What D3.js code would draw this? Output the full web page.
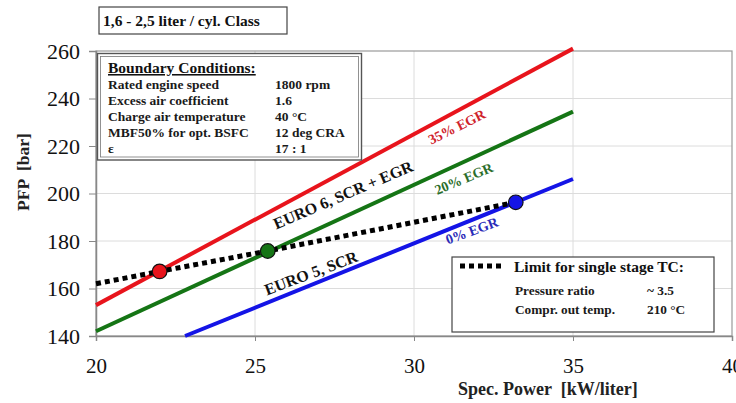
<!DOCTYPE html>
<html>
<head>
<meta charset="utf-8">
<script src="https://cdn.jsdelivr.net/npm/d3@7"></script>
<style>
  html, body { margin: 0; padding: 0; background: #fff; }
  svg { display: block; font-family: "Liberation Serif", "DejaVu Serif", serif; }
</style>
</head>
<body>
<svg id="chart" width="736" height="403"></svg>
<script>
// Peak firing pressure vs. specific power for a 1,6 - 2,5 l/cyl engine class
const xTicks = [20, 25, 30, 35, 40];
const yTicks = [140, 160, 180, 200, 220, 240, 260];

// EGR lines: [spec. power, PFP] end points
const egrNames  = ["35% EGR", "20% EGR", "0% EGR"];
const egrColors = ["#e8141c", "#157515", "#1414e6"];
const egrLabelColors = ["#d0242c", "#2b6e2b", "#2a2ab8"];
const egrX = [[20, 35], [20, 35], [22.8, 35]];
const egrY = [[153, 261], [142, 234.5], [140, 206.1]];

// single stage TC limit
const limitX = [20, 22.0, 25.4, 33.2];
const limitY = [162, 167.2, 175.8, 196.3];
const markerX = [22.0, 25.4, 33.2];
const markerY = [167.2, 175.8, 196.3];

const boundaryRows = [
  ["Rated engine speed", "1800 rpm"],
  ["Excess air coefficient", "1.6"],
  ["Charge air temperature", "40 °C"],
  ["MBF50% for opt. BSFC", "12 deg CRA"],
  ["ε", "17 : 1"]
];
const limitRows = [
  ["Pressure ratio", "~ 3.5"],
  ["Compr. out temp.", "210 °C"]
];

const svg = d3.select("#chart");
const x = d3.scaleLinear().domain([20, 40]).range([96, 732]);
const y = d3.scaleLinear().domain([140, 260]).range([336, 51]);

// grid
const grid = svg.append("g");
grid.selectAll("line.v").data(xTicks.slice(1, -1)).join("line")
  .attr("x1", d => x(d)).attr("x2", d => x(d))
  .attr("y1", y(260)).attr("y2", y(140))
  .attr("stroke", "#dcdcdc").attr("stroke-width", 1);
grid.selectAll("line.h").data(yTicks.slice(1, -1)).join("line")
  .attr("x1", x(20)).attr("x2", x(40))
  .attr("y1", d => y(d)).attr("y2", d => y(d))
  .attr("stroke", "#dcdcdc").attr("stroke-width", 1);

// frame
svg.append("rect")
  .attr("x", x(20)).attr("y", y(260))
  .attr("width", x(40) - x(20)).attr("height", y(140) - y(260))
  .attr("fill", "none").attr("stroke", "#9a9a9a").attr("stroke-width", 1.2);

// axes
const xAxis = svg.append("g").attr("transform", `translate(0,${y(140)})`)
  .call(d3.axisBottom(x).tickValues(xTicks).tickSize(5).tickPadding(17));
const yAxis = svg.append("g").attr("transform", `translate(${x(20)},0)`)
  .call(d3.axisLeft(y).tickValues(yTicks).tickSize(7).tickPadding(9));
[xAxis, yAxis].forEach(a => {
  a.select(".domain").attr("stroke", "#888").attr("stroke-width", 1.5);
  a.selectAll(".tick line").attr("stroke", "#888");
  a.selectAll(".tick text").attr("fill", "#111")
    .style("font-family", "'Liberation Serif', serif");
});
xAxis.selectAll(".tick text").style("font-size", "21px");
yAxis.selectAll(".tick text").style("font-size", "22px");

// axis titles
svg.append("text").attr("x", 458).attr("y", 395)
  .style("white-space", "pre")
  .attr("font-weight", "bold").attr("font-size", 18).attr("fill", "#222")
  .text("Spec. Power  [kW/liter]");
svg.append("text").attr("transform", `translate(29,172) rotate(-90)`)
  .style("white-space", "pre")
  .attr("text-anchor", "middle").attr("font-weight", "bold").attr("font-size", 17.5)
  .attr("fill", "#222").text("PFP  [bar]");

// EGR lines
const line = d3.line().x(d => x(d[0])).y(d => y(d[1]));
egrNames.forEach((name, i) => {
  svg.append("path")
    .datum(egrX[i].map((v, j) => [v, egrY[i][j]]))
    .attr("d", line).attr("fill", "none")
    .attr("stroke", egrColors[i]).attr("stroke-width", 4);
});

// value on an EGR line, and its on-screen angle
function egrAt(i, xv) {
  const [x0, x1] = egrX[i], [y0, y1] = egrY[i];
  return y0 + (xv - x0) * (y1 - y0) / (x1 - x0);
}
function egrAngle(i) {
  const [x0, x1] = egrX[i], [y0, y1] = egrY[i];
  return Math.atan2(y(y1) - y(y0), x(x1) - x(x0)) * 180 / Math.PI;
}

// line labels placed just below their lines
const labelAt = [31.35, 31.57, 31.82];
const labelOff = [16, 17, 11];
egrNames.forEach((name, i) => {
  const px = x(labelAt[i]), py = y(egrAt(i, labelAt[i])) + labelOff[i];
  svg.append("text")
    .attr("transform", `translate(${px},${py}) rotate(${egrAngle(i) + 2})`)
    .attr("text-anchor", "middle").attr("dominant-baseline", "central")
    .attr("font-weight", "bold").attr("font-size", 14)
    .attr("fill", egrLabelColors[i]).text(name);
});

// emission stage labels
{
  const xv = 27.77;
  const py = (y(egrAt(0, xv)) + y(egrAt(1, xv))) / 2;
  svg.append("text")
    .attr("transform", `translate(${x(xv)},${py}) rotate(${egrAngle(1) + 1.5})`)
    .attr("text-anchor", "middle").attr("dominant-baseline", "central")
    .attr("font-weight", "bold").attr("font-size", 16).attr("fill", "#111")
    .text("EURO 6, SCR + EGR");
}
{
  const xv = 26.76;
  const py = y(egrAt(2, xv)) - 12;
  svg.append("text")
    .attr("transform", `translate(${x(xv)},${py}) rotate(${egrAngle(2) + 1.5})`)
    .attr("text-anchor", "middle").attr("dominant-baseline", "central")
    .attr("font-weight", "bold").attr("font-size", 16).attr("fill", "#111")
    .text("EURO 5, SCR");
}

// TC limit line
svg.append("path")
  .datum(limitX.map((v, j) => [v, limitY[j]]))
  .attr("d", line).attr("fill", "none")
  .attr("stroke", "#000").attr("stroke-width", 5)
  .attr("stroke-dasharray", "5,4");

// intersection markers
svg.selectAll("circle.m").data(markerX).join("circle")
  .attr("cx", d => x(d)).attr("cy", (d, i) => y(markerY[i])).attr("r", 7.3)
  .attr("fill", (d, i) => egrColors[i]).attr("stroke", "#111").attr("stroke-width", 1.2);

// class title box
svg.append("rect").attr("x", 99).attr("y", 7).attr("width", 188).attr("height", 27)
  .attr("fill", "#fff").attr("stroke", "#444").attr("stroke-width", 1.2);
svg.append("text").attr("x", 103).attr("y", 26).attr("font-weight", "bold")
  .attr("font-size", 15.5).attr("fill", "#111").text("1,6 - 2,5 liter / cyl. Class");

// boundary conditions box
const bc = svg.append("g");
bc.append("rect").attr("x", 97.5).attr("y", 53.5).attr("width", 264).attr("height", 106.5)
  .attr("fill", "#fff").attr("stroke", "#555").attr("stroke-width", 1.4);
bc.append("rect").attr("x", 100.5).attr("y", 56.5).attr("width", 258).attr("height", 100.5)
  .attr("fill", "none").attr("stroke", "#777").attr("stroke-width", 0.8);
bc.append("text").attr("x", 108).attr("y", 73).attr("font-weight", "bold")
  .attr("font-size", 15.5).attr("text-decoration", "underline").attr("fill", "#111")
  .text("Boundary Conditions:");
boundaryRows.forEach((r, i) => {
  bc.append("text").attr("x", 108).attr("y", 88.5 + i * 16.2).attr("font-weight", "bold")
    .attr("font-size", 13.5).attr("fill", "#1a1a1a").text(r[0]);
  bc.append("text").attr("x", 275).attr("y", 88.5 + i * 16.2).attr("font-weight", "bold")
    .attr("font-size", 13.5).attr("fill", "#1a1a1a").text(r[1]);
});

// TC limit legend
const lg = svg.append("g");
lg.append("rect").attr("x", 452).attr("y", 257).attr("width", 262).attr("height", 75)
  .attr("fill", "#fff").attr("stroke", "#444").attr("stroke-width", 1.2);
lg.append("line").attr("x1", 460).attr("x2", 504).attr("y1", 266).attr("y2", 266)
  .attr("stroke", "#000").attr("stroke-width", 5).attr("stroke-dasharray", "5,4");
lg.append("text").attr("x", 514).attr("y", 272).attr("font-weight", "bold")
  .attr("font-size", 15.5).attr("fill", "#111").text("Limit for single stage TC:");
limitRows.forEach((r, i) => {
  lg.append("text").attr("x", 515).attr("y", 295 + i * 19).attr("font-weight", "bold")
    .attr("font-size", 13.3).attr("fill", "#1a1a1a").text(r[0]);
  lg.append("text").attr("x", 647).attr("y", 295 + i * 19).attr("font-weight", "bold")
    .attr("font-size", 13.3).attr("fill", "#1a1a1a").text(r[1]);
});
</script>
</body>
</html>
